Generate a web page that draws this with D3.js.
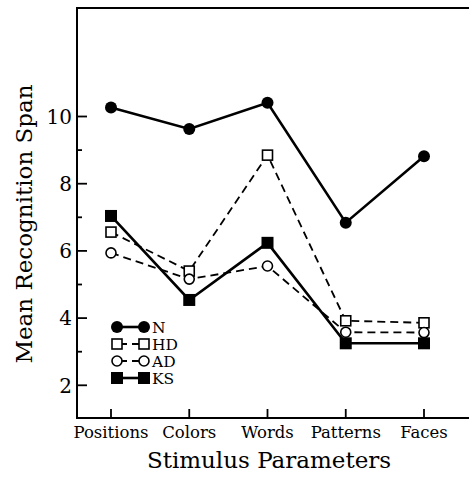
<!DOCTYPE html>
<html><head><meta charset="utf-8">
<script src="https://cdn.jsdelivr.net/npm/d3@7"></script>
<style>body{margin:0;background:#fff}svg{display:block}</style>
</head><body>
<svg id="c" width="469" height="479"></svg>
<script>
const categories = ["Positions", "Colors", "Words", "Patterns", "Faces"];
const seriesNames = ["N", "HD", "AD", "KS"];
const valuesN  = [10.27, 9.63, 10.41, 6.84, 8.82];
const valuesHD = [6.56, 5.40, 8.85, 3.92, 3.86];
const valuesAD = [5.94, 5.16, 5.55, 3.58, 3.57];
const valuesKS = [7.04, 4.54, 6.24, 3.25, 3.25];
const majorTicks = [2, 4, 6, 8, 10];
const minorTicks = [3, 5, 7, 9];
const xTitle = "Stimulus Parameters";
const yTitle = "Mean Recognition Span";

const series = [
  {name: "N",  values: valuesN,  marker: "circle", filled: true,  dashed: false},
  {name: "HD", values: valuesHD, marker: "square", filled: false, dashed: true},
  {name: "AD", values: valuesAD, marker: "circle", filled: false, dashed: true},
  {name: "KS", values: valuesKS, marker: "square", filled: true,  dashed: false}
];

const font = "'DejaVu Serif', serif";
const svg = d3.select("#c");
const L = 77, R = 469, T = 8, B = 418;

const x = d3.scalePoint().domain(categories).range([111, 424]);
const y = d3.scaleLinear().domain([2, 10]).range([385.3, 116.5]);

// frame
svg.append("path").attr("d", `M${R},${T}H${L}V${B}H${R}`)
  .attr("fill", "none").attr("stroke", "#000").attr("stroke-width", 2);

// y ticks (inward)
const gy = svg.append("g");
majorTicks.forEach(v => {
  gy.append("line").attr("x1", L).attr("x2", L + 10).attr("y1", y(v)).attr("y2", y(v))
    .attr("stroke", "#000").attr("stroke-width", 1.8);
  gy.append("text").attr("x", L - 5).attr("y", y(v)).attr("dy", "0.36em")
    .attr("text-anchor", "end").attr("font-family", font).attr("font-size", 20).text(v);
});
minorTicks.forEach(v => {
  gy.append("line").attr("x1", L).attr("x2", L + 5).attr("y1", y(v)).attr("y2", y(v))
    .attr("stroke", "#000").attr("stroke-width", 1.8);
});

// x ticks (inward)
const gx = svg.append("g");
categories.forEach(c => {
  gx.append("line").attr("x1", x(c)).attr("x2", x(c)).attr("y1", B).attr("y2", B - 9)
    .attr("stroke", "#000").attr("stroke-width", 1.8);
  gx.append("text").attr("x", x(c)).attr("y", 438).attr("text-anchor", "middle")
    .attr("font-family", font).attr("font-size", 16.5).text(c);
});

// titles
svg.append("text").attr("x", 269).attr("y", 468).attr("text-anchor", "middle")
  .attr("font-family", font).attr("font-size", 23).text(xTitle);
svg.append("text").attr("transform", "translate(32,224) rotate(-90)").attr("text-anchor", "middle")
  .attr("font-family", font).attr("font-size", 23).text(yTitle);

// lines
const line = d3.line().x((d, i) => x(categories[i])).y(d => y(d));
series.forEach(s => {
  svg.append("path").attr("d", line(s.values)).attr("fill", "none")
    .attr("stroke", "#000").attr("stroke-width", s.dashed ? 1.8 : 2.6)
    .attr("stroke-dasharray", s.dashed ? "8,5" : null);
});

function marker(g, s, cx, cy) {
  if (s.marker === "circle") {
    g.append("circle").attr("cx", cx).attr("cy", cy).attr("r", s.filled ? 6 : 5)
      .attr("fill", s.filled ? "#000" : "#fff").attr("stroke", "#000").attr("stroke-width", s.filled ? 0 : 1.6);
  } else {
    const h = s.filled ? 6 : 5;
    g.append("rect").attr("x", cx - h).attr("y", cy - h).attr("width", 2 * h).attr("height", 2 * h)
      .attr("fill", s.filled ? "#000" : "#fff").attr("stroke", "#000").attr("stroke-width", s.filled ? 0 : 1.6);
  }
}
// markers
series.forEach(s => {
  const g = svg.append("g");
  s.values.forEach((v, i) => marker(g, s, x(categories[i]), y(v)));
});

// legend
const legY = [327, 344, 361, 378];
series.forEach((s, i) => {
  const g = svg.append("g");
  const yy = legY[i];
  g.append("line").attr("x1", 117).attr("x2", 144).attr("y1", yy).attr("y2", yy)
    .attr("stroke", "#000").attr("stroke-width", s.dashed ? 1.8 : 2.6)
    .attr("stroke-dasharray", s.dashed ? "10,5,20" : null);
  marker(g, s, 117, yy);
  marker(g, s, 144, yy);
  g.append("text").attr("x", 152).attr("y", yy).attr("dy", "0.36em")
    .attr("font-family", font).attr("font-size", 15.5).text(s.name);
});
</script>
</body></html>
